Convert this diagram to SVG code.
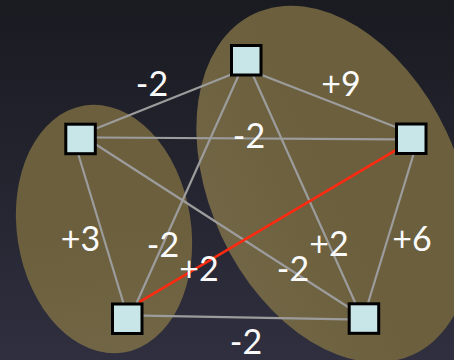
<svg xmlns="http://www.w3.org/2000/svg" width="454" height="360" viewBox="0 0 454 360">
  <defs>
    <linearGradient id="bg" x1="0" y1="0" x2="0" y2="360" gradientUnits="userSpaceOnUse">
      <stop offset="0" stop-color="#1a1a21"/>
      <stop offset="1" stop-color="#2f2f3f"/>
    </linearGradient>
    <linearGradient id="tan" x1="0" y1="0" x2="0" y2="360" gradientUnits="userSpaceOnUse">
      <stop offset="0" stop-color="#6b5f3d"/>
      <stop offset="1" stop-color="#7d7255"/>
    </linearGradient>
    <style>
      .cluster { fill: url(#tan); }
      .edge { stroke: #9c9c9c; stroke-width: 2.2; fill: none; stroke-linecap: round; }
      .cut { stroke: #ff2a10; stroke-width: 2.5; fill: none; stroke-linecap: round; }
      .node { fill: #c8e5e8; stroke: #000; stroke-width: 3; }
      .lbl { font-family: Lato, "Open Sans", sans-serif; font-size: 34px; fill: #fafafa; text-anchor: middle; }
    </style>
  </defs>
  <rect x="0" y="0" width="454" height="360" fill="url(#bg)"/>
  <g id="clusters">
    <ellipse class="cluster" cx="0" cy="0" rx="87" ry="125" transform="translate(104,229) rotate(-9)"/>
    <ellipse class="cluster" cx="0" cy="0" rx="188" ry="124" transform="translate(334,184) rotate(65)"/>
  </g>
  <g id="connectors">
    <line class="edge" x1="96.7" y1="128.3" x2="230" y2="75"/>
    <line class="edge" x1="96.7" y1="137.5" x2="395" y2="139.3"/>
    <line class="edge" x1="261.7" y1="75" x2="395" y2="126.7"/>
    <line class="edge" x1="238.3" y1="76" x2="136.7" y2="302.7"/>
    <line class="edge" x1="253.3" y1="76" x2="355" y2="302.3"/>
    <line class="edge" x1="78.3" y1="154.3" x2="123.3" y2="302.7"/>
    <line class="edge" x1="96.7" y1="145" x2="348" y2="307"/>
    <line class="edge" x1="413.3" y1="155" x2="368.3" y2="302.3"/>
    <line class="edge" x1="143.3" y1="315.7" x2="348.3" y2="319.3"/>
    <line class="cut" x1="395" y1="150.7" x2="140" y2="301.7"/>
  </g>
  <g id="labels">
    <text class="lbl" x="152" y="96">-2</text>
    <text class="lbl" x="341" y="96">+9</text>
    <text class="lbl" x="249" y="148">-2</text>
    <text class="lbl" x="80.5" y="251">+3</text>
    <text class="lbl" x="163" y="257">-2</text>
    <text class="lbl" x="199" y="281">+2</text>
    <text class="lbl" x="293" y="281">-2</text>
    <text class="lbl" x="329" y="256">+2</text>
    <text class="lbl" x="412" y="251">+6</text>
    <text class="lbl" x="246" y="354">-2</text>
  </g>
  <g id="node-top"><rect class="node" x="231.5" y="45.5" width="29.5" height="29.5"/></g>
  <g id="node-left"><rect class="node" x="65.8" y="124.2" width="29.5" height="29.5"/></g>
  <g id="node-right"><rect class="node" x="396.5" y="124" width="29.5" height="29.5"/></g>
  <g id="node-bottom-left"><rect class="node" x="112.5" y="304" width="29.5" height="29.5"/></g>
  <g id="node-bottom-right"><rect class="node" x="349.2" y="303.8" width="29.5" height="29.5"/></g>
</svg>
